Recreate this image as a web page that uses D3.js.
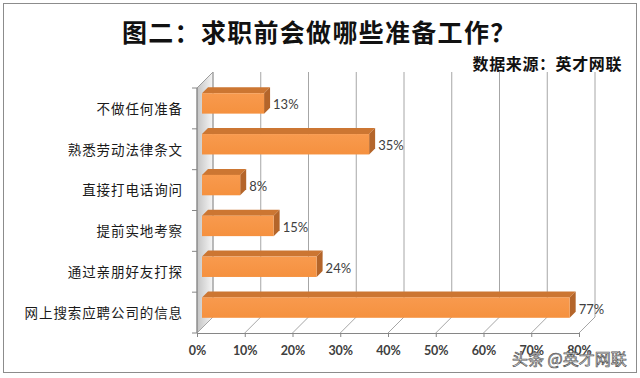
<!DOCTYPE html>
<html>
<head>
<meta charset="utf-8">
<script src="https://cdn.jsdelivr.net/npm/d3@7/dist/d3.min.js"></script>
<style>
  html, body { margin: 0; padding: 0; background: #fff; }
  svg { display: block; }
</style>
</head>
<body>
<div id="chart"></div>
<script>
// data
const categories = ["不做任何准备", "熟悉劳动法律条文", "直接打电话询问", "提前实地考察", "通过亲朋好友打探", "网上搜索应聘公司的信息"];
const values = [13, 35, 8, 15, 24, 77];
const tickValues = [0, 10, 20, 30, 40, 50, 60, 70, 80];
const title = "图二：求职前会做哪些准备工作？";
const source = "数据来源：英才网联";
const watermark = "头条 @英才网联";

const width = 640, height = 378;
const front = { left: 197, right: 579, top: 88, bottom: 333 };
const D = 16;            // depth of the 3d box
const df = 5, db = 11;   // bar sits between these depths
const gridColor = "#a6a6a6";
const axisColor = "#868686";

const x = d3.scaleLinear().domain([0, 80]).range([front.left, front.right]);
const y = d3.scaleBand()
  .domain(categories)
  .range([front.top, front.bottom])
  .paddingInner(0.5)
  .paddingOuter(0.25);

// project a front plane point back by depth d
const p = (px, py, d) => [px + d, py - d];
const poly = pts => pts.map(q => q.join(",")).join(" ");

const svg = d3.select("#chart").append("svg")
  .attr("width", width)
  .attr("height", height)
  .attr("viewBox", [0, 0, width, height]);

svg.append("rect")
  .attr("x", 3.5).attr("y", 3.5)
  .attr("width", 633).attr("height", 369)
  .attr("fill", "#fff")
  .attr("stroke", "#8c8c8c");

const defs = svg.append("defs");
const wallGrad = defs.append("linearGradient")
  .attr("id", "wall").attr("x1", 0).attr("x2", 1).attr("y1", 0).attr("y2", 0);
wallGrad.append("stop").attr("offset", "0%").attr("stop-color", "#c4c4c4");
wallGrad.append("stop").attr("offset", "100%").attr("stop-color", "#f6f6f6");

const barGrad = defs.append("linearGradient")
  .attr("id", "barFront").attr("x1", 0).attr("x2", 0).attr("y1", 0).attr("y2", 1);
barGrad.append("stop").attr("offset", "0%").attr("stop-color", "#f89a4e");
barGrad.append("stop").attr("offset", "100%").attr("stop-color", "#f5913f");

// title and source
svg.append("text")
  .attr("x", 122).attr("y", 31)
  .attr("dominant-baseline", "central")
  .attr("font-family", "'Noto Sans CJK SC', sans-serif")
  .attr("font-weight", "bold")
  .attr("font-size", 25)
  .attr("letter-spacing", 1.3)
  .attr("fill", "#111")
  .text(title);

svg.append("text")
  .attr("x", 622).attr("y", 63)
  .attr("text-anchor", "end")
  .attr("dominant-baseline", "central")
  .attr("font-family", "'Noto Sans CJK SC', sans-serif")
  .attr("font-weight", "bold")
  .attr("font-size", 16)
  .attr("letter-spacing", 0.6)
  .attr("fill", "#111")
  .text(source);

// left wall
svg.append("polygon")
  .attr("points", poly([
    p(front.left, front.top, 0), p(front.left, front.bottom, 0),
    p(front.left, front.bottom, D), p(front.left, front.top, D)
  ]))
  .attr("fill", "url(#wall)")
  .attr("stroke", axisColor)
  .attr("stroke-width", 0.8);

// back wall gridlines and floor lines
const grid = svg.append("g").attr("stroke", gridColor).attr("stroke-width", 1);
grid.selectAll("line.back")
  .data(tickValues)
  .join("line")
  .attr("class", "back")
  .attr("x1", d => p(x(d), front.bottom, D)[0])
  .attr("x2", d => p(x(d), front.top, D)[0])
  .attr("y1", p(0, front.bottom, D)[1])
  .attr("y2", p(0, front.top, D)[1]);

grid.selectAll("line.floor")
  .data(tickValues)
  .join("line")
  .attr("class", "floor")
  .attr("x1", d => x(d))
  .attr("y1", front.bottom)
  .attr("x2", d => p(x(d), front.bottom, D)[0])
  .attr("y2", p(0, front.bottom, D)[1]);

// bars
const bars = svg.append("g")
  .selectAll("g")
  .data(categories.map((c, i) => ({ name: c, value: values[i] })))
  .join("g");

bars.append("polygon")
  .attr("points", d => {
    const X0 = x(0), X1 = x(d.value), Y0 = y(d.name);
    return poly([p(X0, Y0, df), p(X1, Y0, df), p(X1, Y0, db), p(X0, Y0, db)]);
  })
  .attr("fill", "#cc7632");

bars.append("polygon")
  .attr("points", d => {
    const X1 = x(d.value), Y0 = y(d.name), Y1 = Y0 + y.bandwidth();
    return poly([p(X1, Y0, df), p(X1, Y1, df), p(X1, Y1, db), p(X1, Y0, db)]);
  })
  .attr("fill", "#b4652a");

bars.append("rect")
  .attr("x", d => p(x(0), 0, df)[0])
  .attr("y", d => p(0, y(d.name), df)[1])
  .attr("width", d => x(d.value) - x(0))
  .attr("height", y.bandwidth())
  .attr("fill", "url(#barFront)");

bars.append("text")
  .attr("x", d => x(d.value) + db + 3)
  .attr("y", d => p(0, y(d.name), df)[1] + y.bandwidth() / 2 + 1)
  .attr("dominant-baseline", "central")
  .attr("font-family", "Lato, 'Open Sans', sans-serif")
  .attr("font-size", 13)
  .attr("fill", "#404040")
  .text(d => d.value + "%");

// axes
const xAxis = svg.append("g")
  .attr("transform", `translate(0,${front.bottom})`)
  .call(d3.axisBottom(x)
    .tickValues(tickValues)
    .tickFormat(d => d + "%")
    .tickSize(4)
    .tickPadding(9)
    .tickSizeOuter(0));
xAxis.selectAll("line, path").attr("stroke", axisColor);
xAxis.selectAll("text")
  .attr("font-family", "Lato, 'Open Sans', sans-serif")
  .attr("font-weight", "bold")
  .attr("font-size", 12.5)
  .attr("fill", "#404040");

const yAxis = svg.append("g")
  .attr("transform", `translate(${front.left},1)`)
  .call(d3.axisLeft(y).tickSize(0).tickPadding(14));
yAxis.select(".domain").remove();
yAxis.selectAll("text")
  .attr("font-family", "'Noto Sans CJK SC', sans-serif")
  .attr("font-size", 13.5)
  .attr("letter-spacing", 0.9)
  .attr("fill", "#1a1a1a");

svg.append("line")
  .attr("x1", front.left).attr("x2", front.left)
  .attr("y1", front.top).attr("y2", front.bottom)
  .attr("stroke", axisColor);

const step = y.step();
svg.append("g")
  .attr("stroke", axisColor)
  .selectAll("line")
  .data(d3.range(categories.length + 1))
  .join("line")
  .attr("x1", front.left - 5).attr("x2", front.left)
  .attr("y1", i => front.top + i * step)
  .attr("y2", i => front.top + i * step);

// watermark overlay
svg.append("text")
  .attr("x", 512).attr("y", 358)
  .attr("dominant-baseline", "central")
  .attr("font-family", "'Noto Sans CJK SC', sans-serif")
  .attr("font-size", 16)
  .attr("fill", "#fff")
  .attr("stroke", "#555")
  .attr("stroke-width", 0.7)
  .text(watermark);
</script>
</body>
</html>
